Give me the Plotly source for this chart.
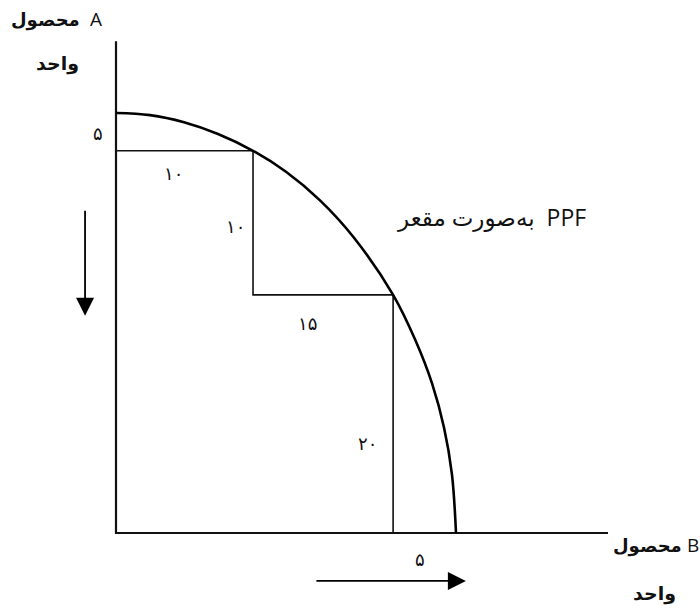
import plotly.graph_objects as go

# PPF curve (product B on x, product A on y)
curve_b = [0, 1, 2, 3, 4.03, 5, 6, 7, 8.15, 8.8, 9.3, 9.65, 9.88, 10]
curve_a = [10, 9.95, 9.78, 9.5, 9.1, 8.6, 7.92, 7.03, 5.67, 4.6, 3.55, 2.5, 1.4, 0]

# staircase of trade-offs
step_b = [0, 4.03, 4.03, 8.15, 8.15]
step_a = [9.1, 9.1, 5.67, 5.67, 0]

# labels
step_labels = ["۵", "۱۰", "۱۰", "۱۵", "۲۰", "۵"]
curve_label = "به‌صورت مقعر  PPF"
product_word = "<b>محصول</b>"
y_letter = "A"
x_letter = "B"
unit_label = "<b>واحد</b>"

# axis extents
axis_b_max = 14.47
axis_a_max = 11.71

FONT = "Open Sans, DejaVu Sans, sans-serif"
ARFONT = "DejaVu Sans, sans-serif"

fig = go.Figure()
fig.add_trace(go.Scatter(x=[0, 0, axis_b_max], y=[axis_a_max, 0, 0], mode="lines",
                         line=dict(color="#111", width=2.2), hoverinfo="skip"))
fig.add_trace(go.Scatter(x=step_b, y=step_a, mode="lines",
                         line=dict(color="#111", width=1.6), hoverinfo="skip"))
fig.add_trace(go.Scatter(x=curve_b, y=curve_a, mode="lines", line_shape="spline",
                         line=dict(color="#000", width=2.6), hoverinfo="skip"))

label_pos = [(-0.53, 9.52), (1.68, 8.57), (3.5, 7.29), (5.62, 5.0), (7.41, 2.14), (8.94, -0.64)]
ann = []
for t, (x, y) in zip(step_labels, label_pos):
    ann.append(dict(x=x, y=y, text=t, showarrow=False, font=dict(family=ARFONT, size=18, color="#111")))

ann.append(dict(x=11.03, y=7.52, text=curve_label, showarrow=False,
                font=dict(family=FONT, size=23, color="#111")))
# y-axis title
ann.append(dict(x=-2.06, y=12.21, text=product_word, showarrow=False,
                font=dict(family=ARFONT, size=18, color="#111")))
ann.append(dict(x=-0.59, y=12.25, text=y_letter, showarrow=False,
                font=dict(family=FONT, size=19, color="#111")))
ann.append(dict(x=-1.71, y=11.19, text=unit_label, showarrow=False,
                font=dict(family=ARFONT, size=19, color="#111")))
# x-axis title
ann.append(dict(x=15.62, y=-0.31, text=product_word, showarrow=False,
                font=dict(family=ARFONT, size=18, color="#111")))
ann.append(dict(x=16.97, y=-0.28, text=x_letter, showarrow=False,
                font=dict(family=FONT, size=19, color="#111")))
ann.append(dict(x=15.85, y=-1.45, text=unit_label, showarrow=False,
                font=dict(family=ARFONT, size=19, color="#111")))

# direction arrows
ann.append(dict(x=-0.91, y=5.17, ax=-0.91, ay=7.71, axref="x", ayref="y", xref="x", yref="y",
                text="", showarrow=True, arrowhead=2, arrowsize=2.0, arrowwidth=1.8, arrowcolor="#000"))
ann.append(dict(x=10.29, y=-1.14, ax=5.85, ay=-1.14, axref="x", ayref="y", xref="x", yref="y",
                text="", showarrow=True, arrowhead=2, arrowsize=2.0, arrowwidth=1.8, arrowcolor="#000"))

fig.update_layout(
    width=700, height=608,
    margin=dict(l=0, r=0, t=0, b=0),
    paper_bgcolor="white", plot_bgcolor="white",
    showlegend=False,
    annotations=ann,
    xaxis=dict(range=[-116 / 34, 584 / 34], visible=False, fixedrange=True),
    yaxis=dict(range=[-75 / 42, 533 / 42], visible=False, fixedrange=True),
)
fig.write_html("out.html", config={"displayModeBar": False},
               post_script="document.body.style.margin='0px';document.body.style.overflow='hidden';")
